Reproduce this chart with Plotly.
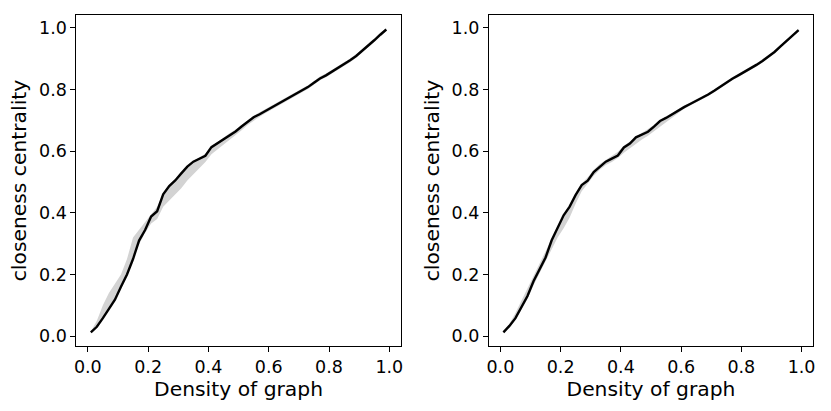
import plotly.graph_objects as go

density = [0.01, 0.03, 0.05, 0.07, 0.09, 0.11, 0.13, 0.15, 0.17, 0.19,
           0.21, 0.23, 0.25, 0.27, 0.29, 0.31, 0.33, 0.35, 0.37, 0.39,
           0.41, 0.43, 0.45, 0.47, 0.49, 0.51, 0.53, 0.55, 0.57, 0.59,
           0.61, 0.63, 0.65, 0.67, 0.69, 0.71, 0.73, 0.75, 0.77, 0.79,
           0.81, 0.83, 0.85, 0.87, 0.89, 0.91, 0.93, 0.95, 0.97, 0.99]

left_line = [0.012, 0.030, 0.058, 0.090, 0.118, 0.160, 0.200, 0.250, 0.310, 0.344,
             0.388, 0.405, 0.460, 0.487, 0.505, 0.528, 0.550, 0.566, 0.575, 0.585,
             0.613, 0.626, 0.640, 0.653, 0.664, 0.680, 0.696, 0.710, 0.720, 0.731,
             0.741, 0.752, 0.762, 0.773, 0.784, 0.795, 0.808, 0.822, 0.836, 0.846,
             0.858, 0.870, 0.882, 0.895, 0.909, 0.925, 0.942, 0.960, 0.978, 0.995]
left_low = [0.012, 0.030, 0.058, 0.090, 0.118, 0.160, 0.200, 0.260, 0.300, 0.335,
            0.365, 0.380, 0.420, 0.440, 0.460, 0.480, 0.505, 0.525, 0.545, 0.565,
            0.590, 0.605, 0.620, 0.638, 0.652, 0.668, 0.685, 0.700, 0.712, 0.724,
            0.735, 0.746, 0.756, 0.767, 0.778, 0.789, 0.802, 0.816, 0.830, 0.840,
            0.852, 0.864, 0.876, 0.889, 0.903, 0.919, 0.936, 0.954, 0.972, 0.990]
left_high = [0.015, 0.050, 0.100, 0.140, 0.170, 0.200, 0.250, 0.320, 0.345, 0.370,
             0.395, 0.420, 0.462, 0.490, 0.510, 0.532, 0.552, 0.568, 0.580, 0.592,
             0.615, 0.630, 0.645, 0.658, 0.670, 0.685, 0.700, 0.715, 0.726, 0.737,
             0.747, 0.758, 0.768, 0.779, 0.790, 0.801, 0.814, 0.828, 0.842, 0.852,
             0.864, 0.876, 0.888, 0.901, 0.915, 0.931, 0.948, 0.966, 0.984, 0.998]

right_line = [0.012, 0.033, 0.058, 0.092, 0.130, 0.178, 0.215, 0.255, 0.310, 0.350,
              0.392, 0.420, 0.458, 0.490, 0.504, 0.532, 0.550, 0.566, 0.576, 0.586,
              0.612, 0.625, 0.645, 0.655, 0.663, 0.680, 0.698, 0.708, 0.720, 0.733,
              0.743, 0.753, 0.763, 0.773, 0.784, 0.796, 0.810, 0.822, 0.835, 0.846,
              0.857, 0.868, 0.880, 0.893, 0.907, 0.922, 0.940, 0.958, 0.975, 0.993]
right_low = [0.010, 0.028, 0.052, 0.085, 0.120, 0.165, 0.205, 0.240, 0.285, 0.320,
             0.350, 0.385, 0.430, 0.470, 0.495, 0.520, 0.540, 0.555, 0.565, 0.578,
             0.595, 0.610, 0.625, 0.638, 0.650, 0.665, 0.680, 0.695, 0.710, 0.726,
             0.738, 0.748, 0.758, 0.768, 0.779, 0.791, 0.805, 0.817, 0.830, 0.841,
             0.852, 0.863, 0.875, 0.888, 0.902, 0.917, 0.935, 0.953, 0.970, 0.989]
right_high = [0.014, 0.040, 0.075, 0.115, 0.155, 0.195, 0.240, 0.280, 0.320, 0.355,
              0.395, 0.425, 0.462, 0.495, 0.515, 0.540, 0.558, 0.572, 0.585, 0.598,
              0.618, 0.632, 0.648, 0.660, 0.672, 0.686, 0.702, 0.713, 0.724, 0.737,
              0.748, 0.758, 0.768, 0.778, 0.789, 0.801, 0.815, 0.827, 0.840, 0.851,
              0.862, 0.873, 0.885, 0.898, 0.912, 0.927, 0.945, 0.963, 0.980, 0.997]

tick_vals = [0.0, 0.2, 0.4, 0.6, 0.8, 1.0]
tick_text = ["0.0", "0.2", "0.4", "0.6", "0.8", "1.0"]

FONT = "DejaVu Sans"
BAND = "#d3d3d3"
TICK_SIZE = 17.5
LABEL_SIZE = 20.3

fig = go.Figure()
panels = [(left_line, left_low, left_high, "x", "y"),
          (right_line, right_low, right_high, "x2", "y2")]
for line, low, high, xa, ya in panels:
    fig.add_trace(go.Scatter(x=density, y=low, mode="lines", line=dict(width=0, color=BAND),
                             xaxis=xa, yaxis=ya, showlegend=False, hoverinfo="skip"))
    fig.add_trace(go.Scatter(x=density, y=high, mode="lines", line=dict(width=0, color=BAND),
                             fill="tonexty", fillcolor=BAND,
                             xaxis=xa, yaxis=ya, showlegend=False, hoverinfo="skip"))
    fig.add_trace(go.Scatter(x=density, y=line, mode="lines", line=dict(width=2.4, color="black"),
                             xaxis=xa, yaxis=ya, showlegend=False))

axis_common = dict(showline=True, linecolor="black", linewidth=1, mirror=True,
                   ticks="outside", ticklen=5, tickwidth=1, tickcolor="black",
                   showgrid=False, zeroline=False,
                   tickvals=tick_vals, ticktext=tick_text,
                   tickfont=dict(family=FONT, size=TICK_SIZE, color="black"))

xr = [-0.038, 1.038]
yr = [-0.0325, 1.042]
ydom = [0.158, 0.9635]

xtitle = dict(text="Density of graph", font=dict(family=FONT, size=LABEL_SIZE, color="black"), standoff=5)
ytitle = dict(text="closeness centrality", font=dict(family=FONT, size=LABEL_SIZE, color="black"), standoff=6)

fig.update_layout(
    width=831, height=411,
    margin=dict(l=0, r=0, t=0, b=0),
    paper_bgcolor="white", plot_bgcolor="white",
    xaxis=dict(domain=[0.0899, 0.4822], range=xr, anchor="y", title=xtitle, **axis_common),
    yaxis=dict(domain=ydom, range=yr, anchor="x", title=ytitle, **axis_common),
    xaxis2=dict(domain=[0.5888, 0.9807], range=xr, anchor="y2", title=xtitle, **axis_common),
    yaxis2=dict(domain=ydom, range=yr, anchor="x2", title=ytitle, **axis_common),
)

fig.write_html("out.html", config={"displayModeBar": False},
               post_script="document.body.style.margin='0px';")
